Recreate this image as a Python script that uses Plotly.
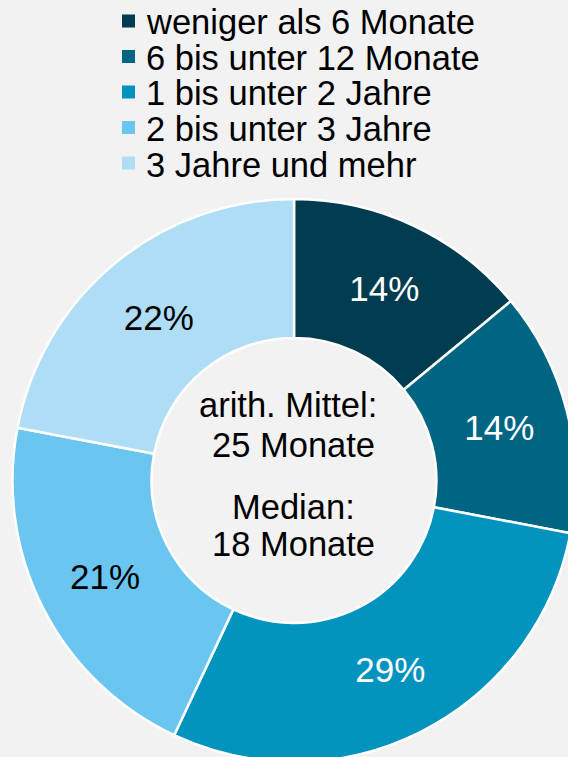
import plotly.graph_objects as go

# Dauer der Arbeitslosigkeit – Anteile in Prozent
categories = [
    "weniger als 6 Monate",
    "6 bis unter 12 Monate",
    "1 bis unter 2 Jahre",
    "2 bis unter 3 Jahre",
    "3 Jahre und mehr",
]
shares = [14, 14, 29, 21, 22]
colors = ["#023C50", "#006582", "#0393BF", "#6AC6F1", "#AFDDF6"]
label_colors = ["white", "white", "white", "black", "black"]
center_lines = ["arith. Mittel:", "25 Monate", "Median:", "18 Monate"]

W, H = 576, 762
FONT = "Liberation Sans, Arial, sans-serif"

# donut: centre (294, 480.5), outer radius 281.5 px
cx, cy, R = 294.0, 480.5, 281.5

fig = go.Figure(
    go.Pie(
        labels=categories,
        values=shares,
        sort=False,
        direction="clockwise",
        rotation=0,
        hole=0.506,
        marker=dict(colors=colors, line=dict(color="white", width=2.5)),
        texttemplate="%{value}%",
        textposition="inside",
        insidetextorientation="horizontal",
        insidetextfont=dict(family=FONT, size=35, color=label_colors),
        hoverinfo="label+percent",
        showlegend=False,
        domain=dict(x=[(cx - R) / W, (cx + R) / W], y=[(H - cy - R) / H, (H - cy + R) / H]),
    )
)

# legend: square swatches plus labels
row0, row_step = 21.0, 35.5
for i, (cat, col) in enumerate(zip(categories, colors)):
    yc = row0 + i * row_step
    fig.add_shape(
        type="rect", xref="paper", yref="paper",
        x0=122 / W, x1=135 / W, y0=1 - (yc - 6.5) / H, y1=1 - (yc + 6.5) / H,
        fillcolor=col, line=dict(width=0),
    )
    fig.add_annotation(
        x=144 / W, y=1 - (yc + 1.5) / H, xref="paper", yref="paper",
        text=cat, showarrow=False, xanchor="left", yanchor="middle",
        font=dict(family=FONT, size=34.5, color="black"),
    )

# text inside the hole
center_x = [287.5, 293, 293, 293]
center_y = [403, 443.5, 505, 542]
for txt, xx, yy in zip(center_lines, center_x, center_y):
    fig.add_annotation(
        x=xx / W, y=1 - (yy + 1.5) / H, xref="paper", yref="paper",
        text=txt, showarrow=False, xanchor="center", yanchor="middle",
        font=dict(family=FONT, size=34.5, color="black"),
    )

fig.update_layout(
    width=W, height=H,
    margin=dict(l=0, r=0, t=0, b=0),
    paper_bgcolor="#F2F2F2",
    plot_bgcolor="#F2F2F2",
    font=dict(family=FONT),
)

fig.write_html(
    "out.html",
    config={"displayModeBar": False},
    post_script=(
        "document.body.style.margin='0';"
        "document.body.style.overflow='hidden';"
        "document.documentElement.style.overflow='hidden';"
        "document.body.style.background='#F2F2F2';"
    ),
)
